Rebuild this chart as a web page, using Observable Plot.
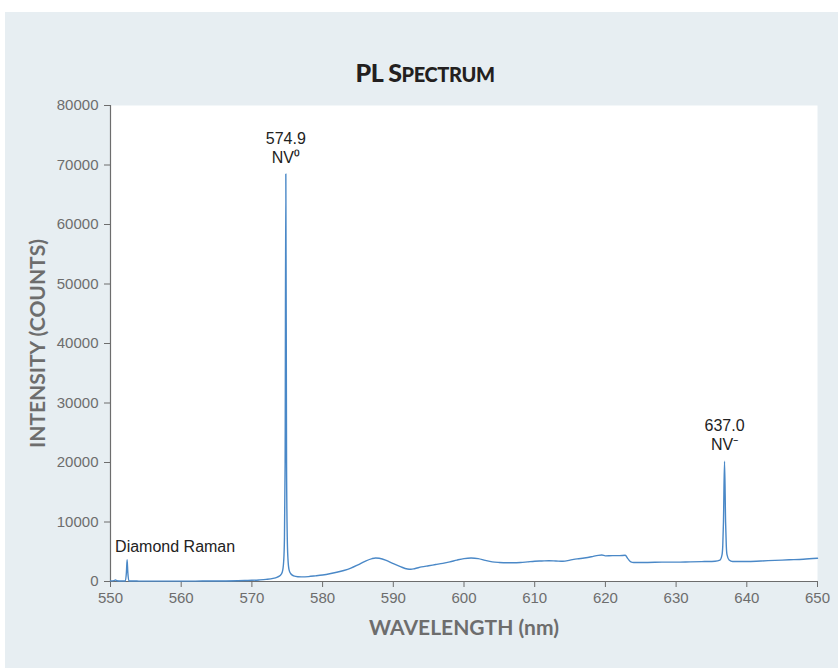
<!DOCTYPE html>
<html>
<head>
<meta charset="utf-8">
<script src="https://cdn.jsdelivr.net/npm/d3@7"></script>
<script src="https://cdn.jsdelivr.net/npm/@observablehq/plot@0.6"></script>
<style>
  body { margin: 0; background: #ffffff; width: 838px; height: 668px; overflow: hidden; }
  #panel { position: absolute; left: 5px; top: 12px; width: 833px; height: 656px; background: #e7eef2; }
  #title { position: absolute; left: 0; width: 840px; top: 46px; text-align: center;
           font-family: Lato, "Open Sans", sans-serif; font-weight: 900; line-height: 28px;
           color: #231f20; letter-spacing: -0.4px; }
  #title .big { font-size: 25px; }
  #title .sc { font-size: 20px; }
  #chart { position: absolute; left: 0; top: 78px; }
</style>
</head>
<body>
<div id="panel">
  <div id="title"><span class="big">PL S</span><span class="sc">PECTRUM</span></div>
  <div id="chart"></div>
</div>
<script>
// Wavelength (nm) and intensity (counts)
const wavelengths = [
  550.0, 550.5, 550.7, 550.9, 551.5, 552.1, 552.25, 552.35, 552.45, 552.6,
  554, 556, 558, 560, 562, 564, 566, 568, 569, 570,
  571, 572, 573, 573.6, 574.0, 574.3, 574.5, 574.6, 574.7, 574.8,
  574.9, 575.0, 575.1, 575.25, 575.5, 575.9, 576.5, 577, 578, 579,
  580, 581, 582, 583, 584, 585, 586, 587, 587.5, 588,
  589, 590, 591, 592, 592.5, 593, 594, 595, 596, 597,
  598, 599, 600, 601, 602, 603, 604, 605, 606, 607,
  608, 609, 610, 611, 612, 613, 614, 615, 616, 617,
  618, 619, 619.5, 620, 621, 622, 622.8, 623.2, 623.6, 624,
  626, 628, 630, 632, 634, 635.5, 636.2, 636.5, 636.6, 636.7,
  636.85, 637.0, 637.1, 637.2, 637.5, 638, 640, 642, 644, 646,
  648, 650
];
const intensities = [
  100, 150, 280, 120, 80, 90, 1500, 3650, 1500, 90,
  70, 60, 60, 60, 70, 80, 90, 120, 160, 200,
  260, 350, 520, 750, 1000, 1600, 3500, 7000, 20000, 68500,
  20000, 7500, 3800, 2000, 1300, 950, 800, 780, 820, 950,
  1100, 1300, 1550, 1850, 2250, 2800, 3400, 3850, 3950, 3900,
  3550, 3000, 2500, 2100, 2050, 2150, 2450, 2650, 2850, 3050,
  3300, 3600, 3850, 3950, 3850, 3550, 3300, 3200, 3150, 3150,
  3200, 3300, 3400, 3450, 3500, 3450, 3400, 3600, 3800, 3950,
  4150, 4400, 4450, 4300, 4350, 4350, 4400, 3800, 3300, 3200,
  3200, 3250, 3250, 3300, 3350, 3400, 3600, 4500, 6000, 10000,
  20200, 10000, 6000, 4500, 3600, 3350, 3350, 3450, 3550, 3650,
  3750, 3900
];

const xTicks = [550, 560, 570, 580, 590, 600, 610, 620, 630, 640, 650];
const yTicks = [0, 10000, 20000, 30000, 40000, 50000, 60000, 70000, 80000];

// Peak annotations (anchored at the peaks they label)
const labelText = ["574.9\nNV\u2070", "637.0\nNV\u207B", "Diamond Raman"];
const labelX = [574.8, 636.85, 552.35];
const labelY = [68500, 20200, 3650];

const spectrum = wavelengths.map((w, i) => ({ w, v: intensities[i] }));
const peakLabels = labelText.map((t, i) => ({ t, x: labelX[i], y: labelY[i] }));

const axisColor = "#6d6d6d";
const labelFont = "Lato, 'Open Sans', sans-serif";

const chart = Plot.plot({
  width: 833,
  height: 578,
  marginLeft: 105,
  marginRight: 21,
  marginTop: 15,
  marginBottom: 87,
  style: { background: "transparent", fontFamily: "'Liberation Sans', Arial, sans-serif", fontSize: "15px", color: axisColor, overflow: "visible" },
  x: { domain: [550, 650] },
  y: { domain: [0, 80000] },
  marks: [
    Plot.frame({ fill: "white", stroke: null }),
    Plot.axisX({ ticks: xTicks, tickSize: 6, tickPadding: 5, tickFormat: d => String(d), label: null, stroke: axisColor, fill: axisColor, fontSize: 15 }),
    Plot.axisY({ ticks: yTicks, tickSize: 6, tickPadding: 6, tickFormat: d => String(d), label: null, stroke: axisColor, fill: axisColor, fontSize: 15 }),
    Plot.ruleY([0], { stroke: axisColor, strokeWidth: 1.2 }),
    Plot.ruleX([550], { stroke: axisColor, strokeWidth: 1.2 }),
    Plot.line(spectrum, { x: "w", y: "v", stroke: "#4a88c7", strokeWidth: 1.4, curve: "monotone-x" }),
    Plot.text(peakLabels.slice(0, 2), { x: "x", y: "y", text: "t", lineAnchor: "bottom", lineHeight: 1.2, dy: -11, fill: "#222", fontSize: 16 }),
    Plot.text(peakLabels.slice(2), { x: "x", y: "y", text: "t", textAnchor: "start", lineAnchor: "middle", dx: -12, dy: -13, fill: "#222", fontSize: 16 }),
    Plot.text(["WAVELENGTH (nm)"], { frameAnchor: "bottom", dy: 53, fontWeight: "bold", fontSize: 21, fill: axisColor, fontFamily: labelFont }),
    Plot.text(["INTENSITY (COUNTS)"], { frameAnchor: "left", textAnchor: "middle", rotate: -90, dx: -72, fontWeight: "bold", fontSize: 21, fill: axisColor, fontFamily: labelFont })
  ]
});
document.getElementById("chart").appendChild(chart);
</script>
</body>
</html>
